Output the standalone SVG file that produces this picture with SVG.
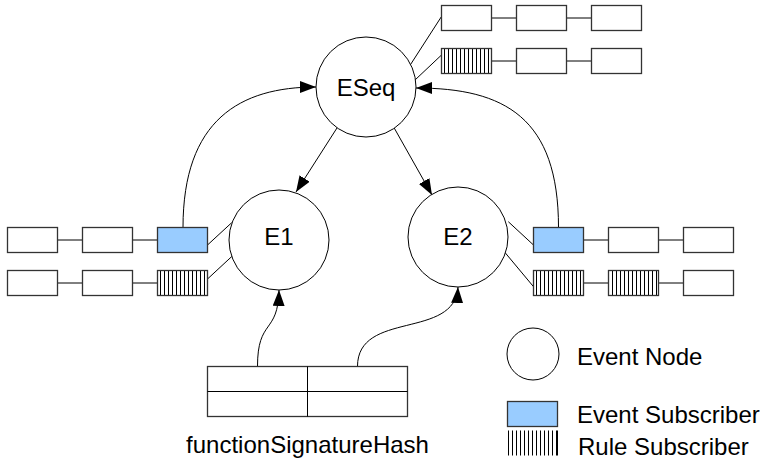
<svg xmlns="http://www.w3.org/2000/svg" width="767" height="471" viewBox="0 0 767 471">
  <defs>
    <pattern id="stripes" patternUnits="userSpaceOnUse" x="0" y="0" width="4" height="4">
      <rect width="4" height="4" fill="#ffffff"/>
      <line x1="0.5" y1="0" x2="0.5" y2="4" stroke="#000" stroke-width="1"/>
    </pattern>
    <marker id="arrow" markerUnits="userSpaceOnUse" markerWidth="16" markerHeight="12" refX="16" refY="6" orient="auto">
      <path d="M0,0 L16,6 L0,12 z" fill="#000"/>
    </marker>
  </defs>
  <style>
    .node { fill: #ffffff; stroke: #000; stroke-width: 1; }
    .box { fill: #ffffff; stroke: #333; stroke-width: 1.3; }
    .evt { fill: #99ccff; stroke: #333; stroke-width: 1.3; }
    .rule { fill: url(#stripes); stroke: #333; stroke-width: 1.3; }
    .link { fill: none; stroke: #000; stroke-width: 1; }
    .flow { fill: none; stroke: #000; stroke-width: 1; marker-end: url(#arrow); }
    .label { font-family: "Liberation Sans", Arial, sans-serif; font-size: 24px; fill: #000; }
    .mid { text-anchor: middle; }
  </style>

  <rect width="767" height="471" fill="#ffffff"/>

  <!-- subscriber chains and their attachment lines -->
  <g id="connectors">
    <!-- chain links -->
    <path class="link" d="M491.5,18 H516.5 M566.5,18 H591.5 M491.5,61 H516.5 M566.5,61 H591.5"/>
    <path class="link" d="M57.5,240 H82.5 M132.5,240 H157.5 M57.5,283 H82.5 M132.5,283 H157.5"/>
    <path class="link" d="M583.5,240 H608.5 M658.5,240 H683.5 M583.5,283 H608.5 M658.5,283 H683.5"/>
    <!-- node to first subscriber -->
    <path class="link" d="M407,70 L441.5,16.5 M415,80 L441.5,55"/>
    <path class="link" d="M207.5,245 L231.7,222.7 M207.5,279 L232.3,256"/>
    <path class="link" d="M508.3,221.7 L533.5,245 M504.3,251.7 L533.5,286.7"/>
    <!-- event flow -->
    <path class="flow" d="M344,117 L296,192"/>
    <path class="flow" d="M388,117 L432,195"/>
    <path class="flow" d="M183,227.5 C183,120 240,87 316,87"/>
    <path class="flow" d="M558.5,227.5 C558.5,118 505,88 416,88"/>
    <path class="flow" d="M257.5,366.5 C257.5,318 278,335 279,290"/>
    <path class="flow" d="M357.5,366.5 C357.5,310 455,340 458,287"/>
  </g>

  <g id="eseq">
    <circle class="node" cx="366" cy="87" r="50"/>
    <text class="label mid" x="366" y="96">ESeq</text>
  </g>
  <g id="e1">
    <circle class="node" cx="279" cy="240" r="50"/>
    <text class="label mid" x="279" y="245">E1</text>
  </g>
  <g id="e2">
    <circle class="node" cx="458" cy="237" r="50"/>
    <text class="label mid" x="458" y="245">E2</text>
  </g>

  <g id="eseq-subscribers">
    <rect class="box" x="441.5" y="5.5" width="50" height="25"/>
    <rect class="box" x="516.5" y="5.5" width="50" height="25"/>
    <rect class="box" x="591.5" y="5.5" width="50" height="25"/>
    <rect class="rule" x="441.5" y="48.5" width="50" height="25"/>
    <rect class="box" x="516.5" y="48.5" width="50" height="25"/>
    <rect class="box" x="591.5" y="48.5" width="50" height="25"/>
  </g>

  <g id="e1-subscribers">
    <rect class="box" x="7.5" y="227.5" width="50" height="25"/>
    <rect class="box" x="82.5" y="227.5" width="50" height="25"/>
    <rect class="evt" x="157.5" y="227.5" width="50" height="25"/>
    <rect class="box" x="7.5" y="270.5" width="50" height="25"/>
    <rect class="box" x="82.5" y="270.5" width="50" height="25"/>
    <rect class="rule" x="157.5" y="270.5" width="50" height="25"/>
  </g>

  <g id="e2-subscribers">
    <rect class="evt" x="533.5" y="227.5" width="50" height="25"/>
    <rect class="box" x="608.5" y="227.5" width="50" height="25"/>
    <rect class="box" x="683.5" y="227.5" width="50" height="25"/>
    <rect class="rule" x="533.5" y="270.5" width="50" height="25"/>
    <rect class="rule" x="608.5" y="270.5" width="50" height="25"/>
    <rect class="box" x="683.5" y="270.5" width="50" height="25"/>
  </g>

  <g id="hash-table">
    <rect class="box" x="207.5" y="366.5" width="200" height="50"/>
    <path class="link" d="M207.5,391.5 H407.5 M307.5,366.5 V416.5" stroke="#333" stroke-width="1.3"/>
    <text class="label mid" x="307.5" y="453">functionSignatureHash</text>
  </g>

  <g id="legend">
    <circle class="node" cx="533" cy="354" r="26"/>
    <text class="label" x="577" y="365">Event Node</text>
    <rect class="evt" x="507.5" y="401.5" width="50" height="25"/>
    <text class="label" x="577" y="423">Event Subscriber</text>
    <rect x="507.5" y="430.5" width="50" height="25" fill="url(#stripes)"/>
    <line x1="557.5" y1="430.5" x2="557.5" y2="455.5" stroke="#000" stroke-width="1"/>
    <text class="label" x="578" y="455">Rule Subscriber</text>
  </g>
</svg>
